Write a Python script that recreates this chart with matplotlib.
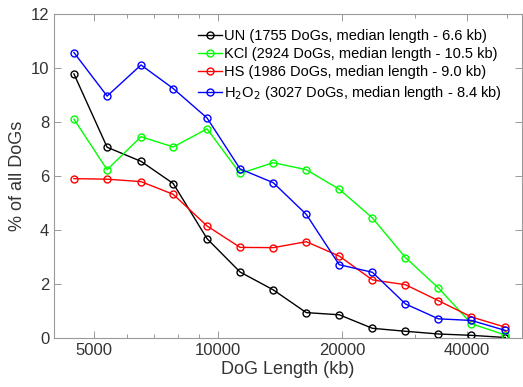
import matplotlib
matplotlib.use("Agg")
import matplotlib.pyplot as plt
from matplotlib.ticker import FixedLocator, NullFormatter

plt.rcParams["font.family"] = ["Liberation Sans", "DejaVu Sans"]

# bin centres (bp) and % of all DoGs
dog_length = [4470, 5380, 6500, 7780, 9400, 11300, 13600, 16350, 19650,
              23650, 28450, 34200, 41100, 49700]

un = [9.77, 7.06, 6.54, 5.72, 3.68, 2.45, 1.79, 0.95, 0.87, 0.37, 0.26, 0.16, 0.11, 0.03]
kcl = [8.10, 6.23, 7.45, 7.07, 7.74, 6.09, 6.49, 6.23, 5.51, 4.45, 2.98, 1.86, 0.54, 0.12]
hs = [5.90, 5.88, 5.79, 5.32, 4.15, 3.36, 3.35, 3.57, 3.04, 2.16, 1.98, 1.39, 0.79, 0.41]
h2o2 = [10.56, 8.95, 10.10, 9.23, 8.14, 6.26, 5.75, 4.58, 2.72, 2.44, 1.27, 0.72, 0.66, 0.29]

labels = [
    "UN (1755 DoGs, median length - 6.6 kb)",
    "KCl (2924 DoGs, median length - 10.5 kb)",
    "HS (1986 DoGs, median length - 9.0 kb)",
    "H$_2$O$_2$ (3027 DoGs, median length - 8.4 kb)",
]
colors = ["black", "#00ff00", "#ff0000", "#0000ff"]

x_major = [5000, 10000, 20000, 40000]
x_minor = [4000, 6000, 7000, 8000, 9000, 30000, 50000]

fig = plt.figure(figsize=(5.23, 3.87), dpi=100)
ax = fig.add_axes([0.1033, 0.1258, 0.8947, 0.8392])

for ys, c, lab in zip([un, kcl, hs, h2o2], colors, labels):
    ax.plot(dog_length, ys, color=c, lw=1.0, marker="o", markersize=5,
            markerfacecolor="none", markeredgewidth=1.0, label=lab)

ax.set_xscale("log")
ax.set_xlim(4000, 54500)
ax.set_ylim(0, 12)
ax.xaxis.set_major_locator(FixedLocator(x_major))
ax.xaxis.set_major_formatter(plt.FixedFormatter([str(v) for v in x_major]))
ax.xaxis.set_minor_locator(FixedLocator(x_minor))
ax.xaxis.set_minor_formatter(NullFormatter())
ax.set_yticks([0, 2, 4, 6, 8, 10, 12])

ax.tick_params(which="both", direction="in", top=True, right=True,
               color="#9a9a9a", labelcolor="#333333", labelsize=12)
ax.tick_params(which="major", length=5, width=0.7)
ax.tick_params(which="minor", length=3, width=0.7)
for s in ax.spines.values():
    s.set_color("#9a9a9a")
    s.set_linewidth(0.8)

ax.set_xlabel("DoG Length (kb)", fontsize=13, color="#333333", labelpad=2)
ax.set_ylabel("% of all DoGs", fontsize=13, color="#333333", labelpad=3)

ax.legend(loc="upper right", frameon=False, fontsize=10.5, handlelength=1.6,
          handletextpad=0.2, labelspacing=0.3, borderaxespad=0.3,
          bbox_to_anchor=(0.98, 0.985))

fig.savefig("out.png", dpi=100)
